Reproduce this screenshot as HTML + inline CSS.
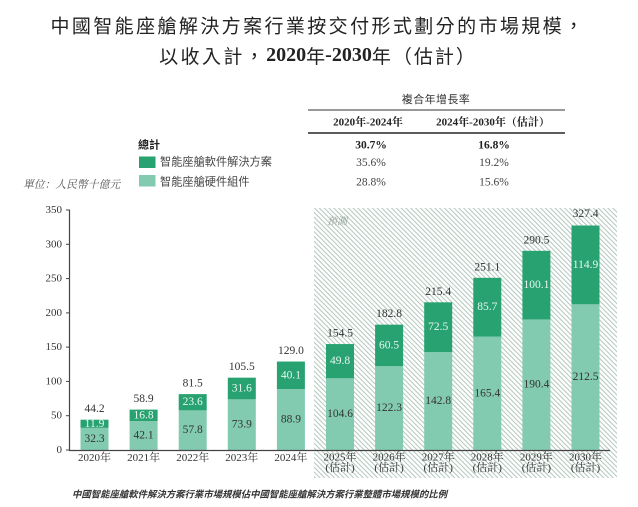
<!DOCTYPE html>
<html>
<head>
<meta charset="utf-8">
<style>
  html,body{margin:0;padding:0;background:#fff;}
  svg{display:block;}
  .serif{font-family:"Liberation Serif","Noto Serif CJK SC","Noto Sans CJK TC",serif;}
  .sans{font-family:"Liberation Sans","Noto Sans CJK TC",sans-serif;}
</style>
</head>
<body>
<svg width="638" height="507" viewBox="0 0 638 507" xmlns="http://www.w3.org/2000/svg">
  <defs>
    <pattern id="hatch" patternUnits="userSpaceOnUse" width="3.4" height="3.4" patternTransform="rotate(-45)">
      <rect x="0" y="0" width="1.05" height="3.4" fill="#b4c8be"/>
    </pattern>
  </defs>
  <rect width="638" height="507" fill="#fff"/>

  <!-- Title -->
  <text x="318" y="25" text-anchor="middle" dominant-baseline="central" font-family="'Noto Sans CJK TC','Noto Sans CJK SC',sans-serif" font-size="19" letter-spacing="2.4" fill="#222">中國智能座艙解決方案行業按交付形式劃分的市場規模，</text>
  <text x="318" y="55" text-anchor="middle" dominant-baseline="central" font-family="'Noto Sans CJK TC','Noto Sans CJK SC',sans-serif" font-size="19" fill="#222"><tspan letter-spacing="2.4">以收入計，</tspan><tspan font-family="'Liberation Serif',serif" font-weight="bold" font-size="20">2020</tspan><tspan>年</tspan><tspan font-family="'Liberation Serif',serif" font-weight="bold" font-size="20">-2030</tspan><tspan letter-spacing="2">年（估計）</tspan></text>

  <!-- CAGR table -->
  <text x="436" y="100" text-anchor="middle" dominant-baseline="central" class="sans" font-size="11" letter-spacing="0.4" fill="#333">複合年增長率</text>
  <line x1="308" y1="110" x2="565" y2="110" stroke="#333" stroke-width="1"/>
  <text x="368" y="122.7" text-anchor="middle" dominant-baseline="central" class="serif" font-size="11" font-weight="bold" fill="#222">2020年-2024年</text>
  <text x="493" y="122.7" text-anchor="middle" dominant-baseline="central" class="serif" font-size="11" font-weight="bold" fill="#222">2024年-2030年（估計）</text>
  <line x1="308" y1="133" x2="565" y2="133" stroke="#444" stroke-width="1.8"/>

  <text x="138" y="145.7" dominant-baseline="central" class="sans" font-size="11" font-weight="bold" fill="#222">總計</text>
  <text x="371" y="145.7" text-anchor="middle" dominant-baseline="central" class="serif" font-size="11.5" font-weight="bold" fill="#222">30.7%</text>
  <text x="494" y="145.7" text-anchor="middle" dominant-baseline="central" class="serif" font-size="11.5" font-weight="bold" fill="#222">16.8%</text>

  <rect x="139" y="156.5" width="16.5" height="11.5" fill="#27a270"/>
  <text x="160" y="162.7" dominant-baseline="central" class="sans" font-size="11.2" fill="#444">智能座艙軟件解決方案</text>
  <text x="371" y="163" text-anchor="middle" dominant-baseline="central" class="serif" font-size="11.5" fill="#444">35.6%</text>
  <text x="494" y="163" text-anchor="middle" dominant-baseline="central" class="serif" font-size="11.5" fill="#444">19.2%</text>

  <rect x="139" y="175" width="16.5" height="11.5" fill="#82cbb0"/>
  <text x="160" y="182.7" dominant-baseline="central" class="sans" font-size="11.2" fill="#444">智能座艙硬件組件</text>
  <text x="371" y="182.7" text-anchor="middle" dominant-baseline="central" class="serif" font-size="11.5" fill="#444">28.8%</text>
  <text x="494" y="182.7" text-anchor="middle" dominant-baseline="central" class="serif" font-size="11.5" fill="#444">15.6%</text>

  <text x="23" y="185" dominant-baseline="central" font-family="'Liberation Serif','Noto Serif CJK SC',serif" font-style="italic" font-size="10.8" fill="#555">單位：人民幣十億元</text>

  <!-- Forecast hatched area -->
  <rect x="314" y="208" width="303" height="270" fill="url(#hatch)"/>
  <text x="327" y="222" dominant-baseline="central" font-family="'Liberation Serif','Noto Serif CJK SC',serif" font-style="italic" font-size="10" fill="#8f9e96">預測</text>

  <!-- Y axis -->
  <g class="serif" font-size="11" fill="#333" text-anchor="end">
    <text x="62" y="450" dominant-baseline="central">0</text>
    <text x="62" y="415.7" dominant-baseline="central">50</text>
    <text x="62" y="381.4" dominant-baseline="central">100</text>
    <text x="62" y="347.1" dominant-baseline="central">150</text>
    <text x="62" y="312.9" dominant-baseline="central">200</text>
    <text x="62" y="278.6" dominant-baseline="central">250</text>
    <text x="62" y="244.3" dominant-baseline="central">300</text>
    <text x="62" y="210" dominant-baseline="central">350</text>
  </g>
  <g stroke="#444" stroke-width="1">
    <line x1="66" y1="450" x2="69.5" y2="450"/>
    <line x1="66" y1="415.7" x2="69.5" y2="415.7"/>
    <line x1="66" y1="381.4" x2="69.5" y2="381.4"/>
    <line x1="66" y1="347.1" x2="69.5" y2="347.1"/>
    <line x1="66" y1="312.9" x2="69.5" y2="312.9"/>
    <line x1="66" y1="278.6" x2="69.5" y2="278.6"/>
    <line x1="66" y1="244.3" x2="69.5" y2="244.3"/>
    <line x1="66" y1="210" x2="69.5" y2="210"/>
  </g>

  <!-- Bars: hardware (light) -->
  <g fill="#82cbb0">
    <rect x="80.5" y="427.85" width="28" height="22.15"/>
    <rect x="129.6" y="421.13" width="28" height="28.87"/>
    <rect x="178.7" y="410.37" width="28" height="39.63"/>
    <rect x="227.8" y="399.33" width="28" height="50.67"/>
    <rect x="276.9" y="389.04" width="28" height="60.96"/>
    <rect x="326" y="378.27" width="28" height="71.73"/>
    <rect x="375.1" y="366.14" width="28" height="83.86"/>
    <rect x="424.2" y="352.08" width="28" height="97.92"/>
    <rect x="473.3" y="336.58" width="28" height="113.42"/>
    <rect x="522.4" y="319.44" width="28" height="130.56"/>
    <rect x="571.5" y="304.29" width="28" height="145.71"/>
  </g>
  <!-- Bars: software (dark) -->
  <g fill="#27a270">
    <rect x="80.5" y="419.69" width="28" height="8.16"/>
    <rect x="129.6" y="409.61" width="28" height="11.52"/>
    <rect x="178.7" y="394.11" width="28" height="16.26"/>
    <rect x="227.8" y="377.66" width="28" height="21.67"/>
    <rect x="276.9" y="361.54" width="28" height="27.5"/>
    <rect x="326" y="344.06" width="28" height="34.21"/>
    <rect x="375.1" y="324.65" width="28" height="41.49"/>
    <rect x="424.2" y="302.3" width="28" height="49.78"/>
    <rect x="473.3" y="277.82" width="28" height="58.76"/>
    <rect x="522.4" y="250.8" width="28" height="68.64"/>
    <rect x="571.5" y="225.5" width="28" height="78.79"/>
  </g>

  <!-- Axis lines -->
  <line x1="69.5" y1="209.5" x2="69.5" y2="450.5" stroke="#444" stroke-width="1.2"/>
  <line x1="69" y1="450.5" x2="610" y2="450.5" stroke="#444" stroke-width="1.2"/>

  <!-- Total labels -->
  <g class="serif" font-size="11.5" fill="#333" text-anchor="middle">
    <text x="94.5" y="409.2" dominant-baseline="central">44.2</text>
    <text x="143.6" y="399.1" dominant-baseline="central">58.9</text>
    <text x="192.7" y="383.6" dominant-baseline="central">81.5</text>
    <text x="241.8" y="367.2" dominant-baseline="central">105.5</text>
    <text x="290.9" y="351" dominant-baseline="central">129.0</text>
    <text x="340" y="333.6" dominant-baseline="central">154.5</text>
    <text x="389.1" y="314.2" dominant-baseline="central">182.8</text>
    <text x="438.2" y="291.8" dominant-baseline="central">215.4</text>
    <text x="487.3" y="267.3" dominant-baseline="central">251.1</text>
    <text x="536.4" y="240.3" dominant-baseline="central">290.5</text>
    <text x="585.5" y="214" dominant-baseline="central">327.4</text>
  </g>
  <!-- Software labels -->
  <g class="serif" font-size="11.5" fill="#eaf7f1" text-anchor="middle">
    <text x="94.5" y="423.8" dominant-baseline="central">11.9</text>
    <text x="143.6" y="415.4" dominant-baseline="central">16.8</text>
    <text x="192.7" y="402.2" dominant-baseline="central">23.6</text>
    <text x="241.8" y="388.5" dominant-baseline="central">31.6</text>
    <text x="290.9" y="375.3" dominant-baseline="central">40.1</text>
    <text x="340" y="361.2" dominant-baseline="central">49.8</text>
    <text x="389.1" y="345.4" dominant-baseline="central">60.5</text>
    <text x="438.2" y="327.2" dominant-baseline="central">72.5</text>
    <text x="487.3" y="307.2" dominant-baseline="central">85.7</text>
    <text x="536.4" y="285.1" dominant-baseline="central">100.1</text>
    <text x="585.5" y="264.9" dominant-baseline="central">114.9</text>
  </g>
  <!-- Hardware labels -->
  <g class="serif" font-size="11.5" fill="#333" text-anchor="middle">
    <text x="94.5" y="438.9" dominant-baseline="central">32.3</text>
    <text x="143.6" y="435.6" dominant-baseline="central">42.1</text>
    <text x="192.7" y="430.2" dominant-baseline="central">57.8</text>
    <text x="241.8" y="424.7" dominant-baseline="central">73.9</text>
    <text x="290.9" y="419.5" dominant-baseline="central">88.9</text>
    <text x="340" y="414.1" dominant-baseline="central">104.6</text>
    <text x="389.1" y="408.1" dominant-baseline="central">122.3</text>
    <text x="438.2" y="401" dominant-baseline="central">142.8</text>
    <text x="487.3" y="393.3" dominant-baseline="central">165.4</text>
    <text x="536.4" y="384.7" dominant-baseline="central">190.4</text>
    <text x="585.5" y="377.1" dominant-baseline="central">212.5</text>
  </g>

  <!-- X labels -->
  <g class="serif" font-size="11" fill="#333" text-anchor="middle">
    <text x="94.5" y="458" dominant-baseline="central">2020年</text>
    <text x="143.6" y="458" dominant-baseline="central">2021年</text>
    <text x="192.7" y="458" dominant-baseline="central">2022年</text>
    <text x="241.8" y="458" dominant-baseline="central">2023年</text>
    <text x="290.9" y="458" dominant-baseline="central">2024年</text>
    <text x="340" y="457.3" dominant-baseline="central">2025年</text>
    <text x="389.1" y="457.3" dominant-baseline="central">2026年</text>
    <text x="438.2" y="457.3" dominant-baseline="central">2027年</text>
    <text x="487.3" y="457.3" dominant-baseline="central">2028年</text>
    <text x="536.4" y="457.3" dominant-baseline="central">2029年</text>
    <text x="585.5" y="457.3" dominant-baseline="central">2030年</text>
    <text x="340" y="468" dominant-baseline="central">(估計)</text>
    <text x="389.1" y="468" dominant-baseline="central">(估計)</text>
    <text x="438.2" y="468" dominant-baseline="central">(估計)</text>
    <text x="487.3" y="468" dominant-baseline="central">(估計)</text>
    <text x="536.4" y="468" dominant-baseline="central">(估計)</text>
    <text x="585.5" y="468" dominant-baseline="central">(估計)</text>
  </g>

  <!-- Footnote -->
  <text x="72" y="493.3" dominant-baseline="central" font-family="'Noto Sans CJK TC','Noto Sans CJK SC',sans-serif" font-size="9.4" font-weight="bold" font-style="italic" fill="#333">中國智能座艙軟件解決方案行業市場規模佔中國智能座艙解決方案行業整體市場規模的比例</text>
</svg>
</body>
</html>
